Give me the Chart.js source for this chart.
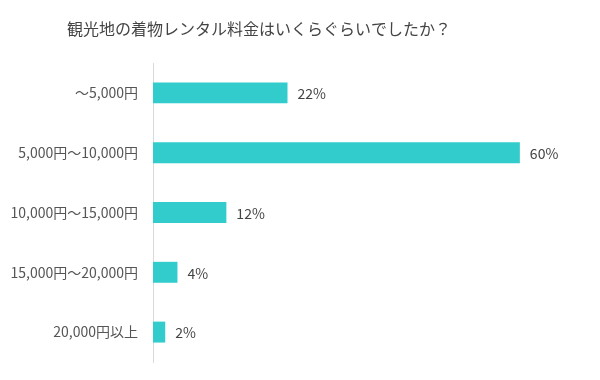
<!DOCTYPE html>
<html><head><meta charset="utf-8">
<script src="https://cdn.jsdelivr.net/npm/chart.js@4"></script>
<style>html,body{margin:0;padding:0;background:#fff}#wrap{width:600px;height:380px}</style>
</head><body><div id="wrap"><canvas id="c" width="600" height="380"></canvas></div>
<script>
const categories = ["～5,000円", "5,000円～10,000円", "10,000円～15,000円", "15,000円～20,000円", "20,000円以上"];
const values = [22, 60, 12, 4, 2];
const titleText = "観光地の着物レンタル料金はいくらぐらいでしたか？";
const FONT = "'Noto Sans CJK JP', 'Noto Sans', sans-serif";

const valueLabels = {
  id: 'valueLabels',
  afterDatasetsDraw(chart) {
    const ctx = chart.ctx;
    const meta = chart.getDatasetMeta(0);
    ctx.save();
    ctx.font = "14px " + FONT;
    ctx.fillStyle = "#444";
    ctx.textAlign = "left";
    ctx.textBaseline = "middle";
    meta.data.forEach((bar, i) => {
      ctx.fillText(values[i] + "%", bar.x + 10, bar.y + 1);
    });
    ctx.restore();
  }
};

const titleDraw = {
  id: 'titleDraw',
  afterDraw(chart) {
    const ctx = chart.ctx;
    ctx.save();
    ctx.font = "16px " + FONT;
    ctx.fillStyle = "#444";
    ctx.textAlign = "center";
    ctx.textBaseline = "middle";
    ctx.fillText(titleText, 259, 29);
    ctx.restore();
  }
};

new Chart(document.getElementById('c'), {
  type: 'bar',
  data: {
    labels: categories,
    datasets: [{
      data: values,
      backgroundColor: '#33cccc',
      barPercentage: 0.7,
      categoryPercentage: 0.5
    }]
  },
  options: {
    indexAxis: 'y',
    responsive: false,
    animation: false,
    layout: { padding: { left: 0, right: 19, top: 63, bottom: 18 } },
    plugins: {
      legend: { display: false },
      tooltip: { enabled: false },
      title: { display: false }
    },
    scales: {
      x: { display: false, min: 0, max: 70 },
      y: {
        afterFit(scale) { scale.width = 153; scale.paddingTop = 0; scale.paddingBottom = 0; },
        grid: { display: false, drawTicks: false },
        border: { display: true, color: '#d9d9d9', width: 1 },
        ticks: { color: '#555', padding: 15, font: { family: FONT, size: 14 } }
      }
    }
  },
  plugins: [valueLabels, titleDraw]
});
</script></body></html>
